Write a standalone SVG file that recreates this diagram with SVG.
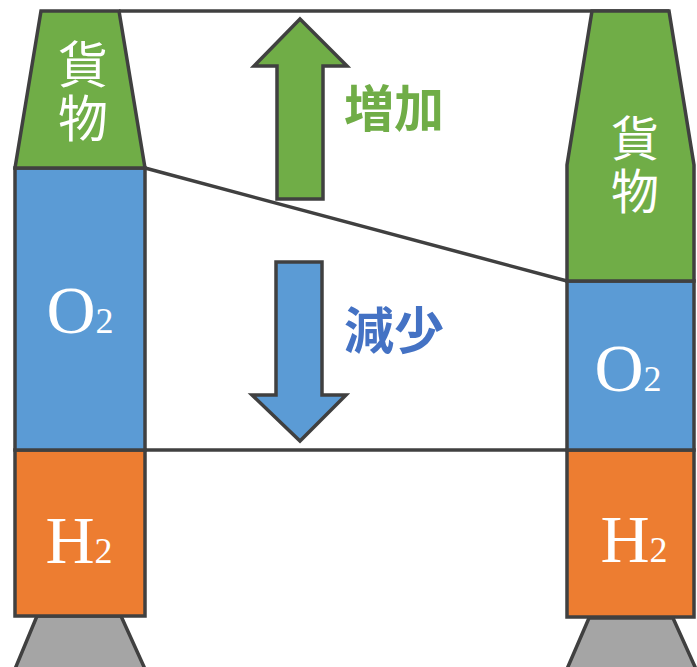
<svg xmlns="http://www.w3.org/2000/svg" width="697" height="667" viewBox="0 0 697 667">
<style>
.s{stroke:#404040;stroke-width:3.5;stroke-linejoin:miter}
.ln{stroke:#404040;stroke-width:3.5;fill:none}
.cargo{fill:#70ad47}
.o2{fill:#5b9bd5}
.h2{fill:#ed7d31}
.noz{fill:#a5a5a5}
.lbl{font-family:"Liberation Serif","Times New Roman",serif;fill:#ffffff;font-size:68px;text-anchor:middle}
.cj{font-family:"Noto Sans CJK JP","Noto Sans CJK SC",sans-serif;fill:#ffffff;writing-mode:vertical-rl;text-anchor:start}
.big{font-family:"Noto Sans CJK JP","Noto Sans CJK SC",sans-serif;font-weight:bold;font-size:50px}
</style>
<rect width="697" height="667" fill="#ffffff"/>
<g id="connectors">
<line class="ln" x1="119" y1="11" x2="669" y2="11"/>
<line class="ln" x1="145" y1="168" x2="567" y2="281"/>
<line class="ln" x1="145" y1="450" x2="567" y2="450"/>
</g>
<g id="left-rocket">
<g id="left-nozzle"><polygon class="s noz" points="37,616 121,616 145,669 15,669"/></g>
<g id="left-h2"><rect class="s h2" x="15" y="450" width="130" height="166"/><text class="lbl" x="79" y="563">H<tspan font-size="36">2</tspan></text></g>
<g id="left-o2"><rect class="s o2" x="15" y="168" width="130" height="282"/><text class="lbl" x="80" y="333">O<tspan font-size="36">2</tspan></text></g>
<g id="left-cargo"><polygon class="s cargo" points="41,11 119,11 145,168 15,168"/><text class="cj" x="83" y="39" font-size="50" letter-spacing="4">貨物</text></g>
</g>
<g id="right-rocket">
<g id="right-nozzle"><polygon class="s noz" points="589,618 673,618 696,669 567,669"/></g>
<g id="right-h2"><rect class="s h2" x="567" y="450" width="127" height="167"/><text class="lbl" x="634" y="562">H<tspan font-size="36">2</tspan></text></g>
<g id="right-o2"><rect class="s o2" x="567" y="281" width="127" height="169"/><text class="lbl" x="628" y="391">O<tspan font-size="36">2</tspan></text></g>
<g id="right-cargo"><polygon class="s cargo" points="592,11 669,11 694,165 694,281 567,281 567,165"/><text class="cj" x="635" y="114" font-size="48" letter-spacing="5">貨物</text></g>
</g>
<g id="increase">
<polygon class="s" fill="#70ad47" stroke-width="3" points="300,19 347,66 323,66 323,199 277,199 277,66 254,66"/>
<text class="big" x="344" y="127" fill="#70ad47">増加</text>
</g>
<g id="decrease">
<polygon class="s" fill="#5b9bd5" stroke-width="3" points="276,262 322,262 322,395 346,395 300,441 252,395 276,395"/>
<text class="big" x="344" y="349" fill="#4472c4">減少</text>
</g>
</svg>
